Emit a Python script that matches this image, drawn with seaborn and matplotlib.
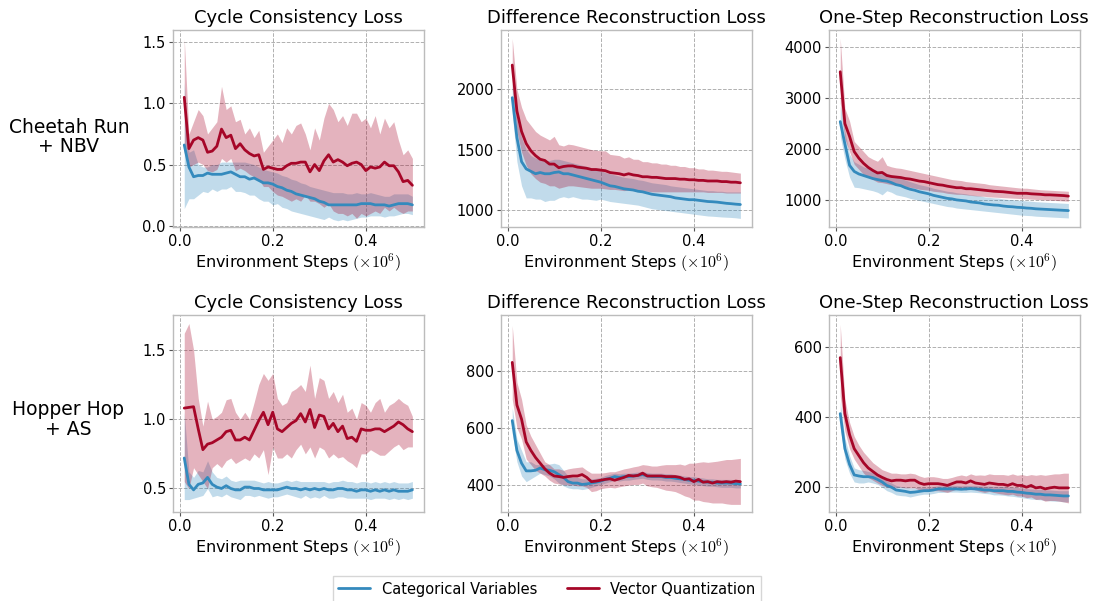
import numpy as np
import pandas as pd
import matplotlib
matplotlib.use("Agg")
import matplotlib.pyplot as plt
import seaborn as sns
from matplotlib.lines import Line2D

# Environment steps (x 10^6), evaluation every 0.01
steps = np.round(np.arange(1, 51) * 0.01, 2)

methods = ["Categorical Variables", "Vector Quantization"]
tasks = ["Cheetah Run\n+ NBV", "Hopper Hop\n+ AS"]
losses = ["Cycle Consistency Loss", "Difference Reconstruction Loss", "One-Step Reconstruction Loss"]

# ---------------- Cheetah Run + NBV ----------------
cr_cyc_cv = [0.66,0.48,0.40,0.41,0.41,0.43,0.42,0.42,0.42,0.43,0.44,0.42,0.40,0.40,0.38,0.39,0.37,0.35,0.35,0.34,
             0.32,0.31,0.29,0.28,0.26,0.25,0.24,0.23,0.22,0.20,0.19,0.17,0.17,0.17,0.17,0.17,0.17,0.17,0.18,0.18,
             0.18,0.17,0.17,0.17,0.16,0.17,0.18,0.18,0.18,0.17]
cr_cyc_cv_hi = [1.17,0.60,0.62,0.50,0.48,0.48,0.50,0.50,0.52,0.52,0.52,0.52,0.52,0.52,0.51,0.50,0.48,0.46,0.45,0.44,
                0.43,0.41,0.40,0.38,0.37,0.35,0.34,0.32,0.31,0.30,0.29,0.28,0.27,0.27,0.27,0.26,0.26,0.27,0.26,0.26,
                0.27,0.26,0.25,0.24,0.24,0.26,0.26,0.26,0.26,0.24]
cr_cyc_cv_lo = [0.14,0.22,0.22,0.25,0.28,0.27,0.30,0.28,0.30,0.30,0.32,0.28,0.28,0.27,0.25,0.25,0.22,0.20,0.20,0.17,
                0.18,0.15,0.14,0.12,0.11,0.10,0.09,0.08,0.07,0.06,0.05,0.07,0.05,0.04,0.05,0.04,0.05,0.06,0.07,0.07,
                0.08,0.08,0.08,0.07,0.08,0.08,0.09,0.10,0.10,0.09]
cr_cyc_vq = [1.05,0.63,0.70,0.72,0.70,0.60,0.61,0.65,0.79,0.72,0.74,0.63,0.67,0.62,0.59,0.57,0.58,0.46,0.48,0.47,
             0.46,0.46,0.49,0.51,0.51,0.52,0.52,0.44,0.50,0.45,0.53,0.58,0.52,0.54,0.52,0.49,0.51,0.52,0.50,0.45,
             0.48,0.47,0.48,0.52,0.49,0.49,0.44,0.36,0.37,0.33]
cr_cyc_vq_hi = [1.53,0.75,0.85,0.95,0.90,0.75,0.80,0.85,1.14,0.95,0.98,0.85,0.87,0.75,0.80,0.72,0.78,0.60,0.65,0.70,
                0.75,0.68,0.80,0.75,0.82,0.84,0.75,0.62,0.80,0.70,0.88,1.00,0.95,0.85,0.90,0.82,0.92,0.92,0.85,0.88,
                0.80,0.90,0.75,0.88,0.80,0.85,0.70,0.58,0.62,0.55]
cr_cyc_vq_lo = [0.60,0.48,0.50,0.52,0.50,0.45,0.44,0.46,0.55,0.52,0.55,0.45,0.47,0.45,0.42,0.40,0.38,0.32,0.32,0.28,
                0.25,0.24,0.22,0.20,0.22,0.20,0.25,0.20,0.20,0.18,0.15,0.18,0.12,0.10,0.10,0.08,0.10,0.06,0.10,0.08,
                0.10,0.12,0.10,0.15,0.12,0.15,0.12,0.10,0.12,0.12]

cr_dif_cv = [1930,1600,1400,1340,1320,1300,1310,1300,1300,1310,1315,1300,1300,1290,1280,1270,1260,1250,1240,1230,
             1215,1200,1195,1185,1175,1170,1165,1155,1150,1140,1130,1125,1120,1115,1110,1100,1095,1090,1085,1085,
             1080,1075,1070,1068,1065,1060,1055,1052,1048,1045]
cr_dif_cv_hi = [2050,1750,1600,1500,1450,1430,1420,1410,1410,1420,1420,1410,1400,1390,1380,1370,1360,1350,1340,1330,
                1310,1300,1290,1280,1270,1265,1260,1250,1245,1235,1225,1220,1215,1210,1200,1195,1190,1185,1180,1175,
                1170,1165,1160,1160,1155,1155,1150,1150,1150,1150]
cr_dif_cv_lo = [1800,1400,1200,1100,1100,1090,1090,1070,1080,1080,1100,1110,1100,1110,1100,1090,1090,1085,1080,1090,
                1080,1070,1065,1060,1055,1050,1045,1040,1030,1020,1010,1005,1000,995,990,985,980,975,970,965,
                960,955,950,948,945,942,940,938,935,930]
cr_dif_vq = [2200,1820,1650,1550,1490,1450,1420,1410,1380,1380,1350,1360,1365,1365,1355,1350,1345,1335,1335,1330,
             1325,1310,1305,1300,1290,1300,1290,1285,1275,1275,1270,1270,1265,1260,1260,1260,1255,1255,1250,1250,
             1245,1245,1240,1240,1240,1235,1235,1230,1230,1225]
cr_dif_vq_hi = [2420,2000,1850,1750,1700,1650,1620,1600,1580,1610,1540,1530,1545,1540,1530,1520,1510,1500,1495,1490,
                1490,1460,1455,1450,1430,1440,1420,1420,1400,1400,1390,1390,1380,1380,1370,1370,1360,1360,1350,1350,
                1340,1340,1330,1330,1325,1320,1320,1315,1310,1305]
cr_dif_vq_lo = [2000,1650,1480,1370,1300,1260,1230,1220,1200,1200,1180,1190,1200,1200,1195,1190,1185,1180,1180,1180,
                1175,1170,1170,1165,1160,1165,1160,1160,1155,1155,1150,1150,1150,1150,1150,1150,1150,1150,1150,1150,
                1150,1150,1145,1145,1145,1145,1140,1140,1140,1140]

cr_one_cv = [2540,2100,1680,1560,1510,1480,1450,1420,1400,1380,1370,1340,1300,1280,1240,1210,1190,1160,1140,1120,
             1090,1070,1050,1030,1020,1000,990,980,960,950,940,920,910,900,895,880,870,865,855,850,
             840,835,825,820,815,810,805,800,795,790]
cr_one_cv_hi = [2850,2350,1900,1750,1700,1650,1620,1580,1560,1540,1520,1480,1450,1420,1390,1360,1330,1300,1280,1260,
                1230,1210,1190,1170,1160,1140,1130,1120,1100,1090,1080,1060,1050,1040,1035,1020,1010,1005,995,990,
                980,975,965,960,955,950,945,940,935,930]
cr_one_cv_lo = [2250,1800,1450,1250,1240,1220,1200,1180,1150,1100,1180,1150,1100,1080,1060,1030,1010,990,970,950,
                930,910,890,870,860,840,830,820,810,800,790,780,770,760,750,740,730,720,710,700,
                695,690,680,675,670,665,660,655,650,645]
cr_one_vq = [3520,2500,2250,1950,1820,1720,1640,1580,1530,1540,1480,1460,1450,1440,1420,1410,1390,1370,1360,1340,
             1320,1300,1290,1270,1255,1240,1240,1220,1220,1210,1200,1190,1180,1170,1165,1160,1150,1140,1130,1130,
             1130,1120,1115,1110,1100,1100,1095,1090,1085,1075]
cr_one_vq_hi = [4180,2800,2550,2150,2050,1950,1850,1800,1760,1850,1680,1650,1630,1620,1600,1580,1560,1540,1520,1500,
                1480,1460,1440,1420,1400,1390,1380,1360,1350,1340,1330,1320,1300,1290,1280,1270,1260,1250,1240,1230,
                1230,1220,1210,1200,1195,1190,1185,1180,1175,1170]
cr_one_vq_lo = [2900,2200,1950,1700,1600,1500,1450,1400,1350,1340,1320,1300,1290,1280,1260,1250,1230,1210,1200,1190,
                1170,1160,1150,1130,1120,1110,1110,1100,1090,1080,1075,1070,1060,1055,1050,1045,1040,1035,1030,1025,
                1020,1015,1010,1005,1000,995,990,985,980,975]

# ---------------- Hopper Hop + AS ----------------
hh_cyc_cv = [0.72,0.53,0.49,0.53,0.54,0.58,0.53,0.51,0.50,0.52,0.50,0.49,0.49,0.51,0.51,0.50,0.50,0.49,0.49,0.49,
             0.49,0.50,0.51,0.50,0.50,0.49,0.50,0.49,0.50,0.49,0.50,0.49,0.49,0.50,0.50,0.49,0.49,0.48,0.49,0.49,
             0.48,0.49,0.48,0.49,0.48,0.49,0.48,0.48,0.48,0.49]
hh_cyc_cv_hi = [1.05,0.62,0.58,0.63,0.62,0.70,0.62,0.58,0.57,0.59,0.56,0.55,0.56,0.56,0.56,0.56,0.55,0.54,0.55,0.54,
                0.54,0.55,0.56,0.55,0.56,0.55,0.55,0.55,0.55,0.55,0.55,0.54,0.55,0.55,0.56,0.55,0.55,0.54,0.55,0.55,
                0.54,0.55,0.54,0.55,0.54,0.55,0.54,0.54,0.54,0.55]
hh_cyc_cv_lo = [0.42,0.42,0.43,0.44,0.45,0.50,0.44,0.45,0.44,0.46,0.44,0.43,0.42,0.45,0.45,0.44,0.45,0.44,0.43,0.44,
                0.44,0.45,0.46,0.45,0.44,0.43,0.45,0.43,0.44,0.43,0.45,0.43,0.43,0.44,0.44,0.43,0.43,0.43,0.43,0.43,
                0.42,0.43,0.43,0.43,0.42,0.43,0.42,0.43,0.42,0.43]
hh_cyc_vq = [1.08,1.085,1.09,0.93,0.78,0.82,0.83,0.85,0.87,0.91,0.92,0.85,0.85,0.87,0.85,0.92,0.99,1.05,0.96,1.05,
             0.93,0.91,0.94,0.97,0.99,1.04,0.98,1.07,0.94,1.03,1.02,0.93,0.97,0.91,0.95,0.86,0.87,0.84,0.93,0.92,
             0.92,0.93,0.93,0.91,0.93,0.95,0.98,0.96,0.93,0.91]
hh_cyc_vq_hi = [1.62,1.69,1.50,1.15,0.95,1.13,1.00,1.02,1.05,1.14,1.15,1.05,1.00,1.05,1.00,1.12,1.25,1.33,1.28,1.33,
                1.15,1.10,1.12,1.20,1.22,1.25,1.20,1.39,1.15,1.30,1.28,1.15,1.20,1.12,1.18,1.05,1.08,1.00,1.12,1.10,
                1.05,1.12,1.15,1.05,1.10,1.12,1.15,1.12,1.10,1.02]
hh_cyc_vq_lo = [0.55,0.50,0.65,0.60,0.55,0.50,0.65,0.68,0.65,0.70,0.72,0.68,0.70,0.72,0.70,0.75,0.72,0.78,0.60,0.80,
                0.72,0.72,0.75,0.72,0.78,0.82,0.75,0.80,0.72,0.80,0.78,0.72,0.75,0.72,0.73,0.70,0.68,0.65,0.75,0.75,
                0.78,0.76,0.74,0.74,0.77,0.80,0.82,0.78,0.80,0.80]

hh_dif_cv = [625,520,475,448,448,450,458,452,450,445,435,425,410,405,405,400,402,405,408,412,
             418,422,428,425,428,428,430,432,435,430,428,428,428,425,425,422,420,418,415,415,
             412,410,408,408,405,405,405,405,403,402]
hh_dif_cv_hi = [670,560,520,480,480,470,470,470,472,475,470,450,430,425,425,420,420,420,422,425,
                432,436,440,438,440,440,442,444,446,442,440,440,440,438,438,435,433,430,428,428,
                425,423,420,420,418,418,418,418,416,415]
hh_dif_cv_lo = [580,480,430,410,420,430,440,435,430,420,405,395,388,385,385,382,385,390,395,400,
                405,410,415,412,415,415,418,420,422,418,416,416,415,412,412,410,407,405,402,400,
                398,396,394,394,392,390,390,390,388,388]
hh_dif_vq = [830,680,630,550,520,495,475,455,440,430,428,425,428,430,430,435,425,410,412,415,
             418,420,415,420,425,432,430,432,440,430,430,430,430,428,428,428,425,418,420,410,
             418,408,410,405,410,408,410,408,412,410]
hh_dif_vq_hi = [960,760,700,610,570,540,510,480,470,455,455,450,455,458,460,462,450,440,440,440,
                442,445,445,450,455,458,462,465,470,468,465,465,468,470,470,470,472,468,475,475,
                478,480,478,480,482,485,488,488,490,492]
hh_dif_vq_lo = [700,600,560,490,470,450,440,430,415,405,402,400,398,398,395,395,390,375,378,385,
                388,390,388,392,395,398,400,400,405,395,392,390,385,380,378,375,368,360,355,345,
                345,340,338,335,335,335,332,330,330,330]

hh_one_cv = [410,310,265,235,232,230,230,228,222,215,205,200,192,190,188,185,186,188,190,190,
             192,195,195,195,195,195,194,195,196,195,194,192,192,190,190,190,188,188,186,185,
             183,182,180,180,178,178,177,176,175,175]
hh_one_cv_hi = [445,340,290,255,250,248,245,242,235,228,218,212,205,202,200,198,198,200,200,200,
                202,204,204,205,205,205,204,205,205,205,204,203,203,202,202,202,200,200,199,198,
                196,195,194,194,192,192,191,190,190,190]
hh_one_cv_lo = [370,280,240,215,212,212,215,212,208,200,190,185,178,176,175,172,175,178,180,180,
                182,185,185,186,186,186,185,185,186,185,184,182,181,178,178,177,175,174,172,170,
                168,166,165,164,162,161,160,160,158,158]
hh_one_vq = [570,410,350,310,290,270,255,245,235,228,222,218,220,220,218,220,220,212,208,210,
             210,210,208,205,210,215,215,212,218,212,210,208,212,210,208,208,205,210,205,205,
             200,205,198,200,195,198,200,198,198,198]
hh_one_vq_hi = [665,450,385,345,320,300,285,270,260,250,245,240,240,238,238,240,238,232,228,230,
                230,228,225,225,228,232,235,232,238,234,235,234,238,236,236,236,234,238,234,236,
                233,236,234,236,234,236,238,238,240,240]
hh_one_vq_lo = [460,360,310,280,260,240,228,220,212,205,200,198,200,200,198,198,198,192,188,190,
                190,190,188,185,190,195,195,192,198,192,188,185,188,185,182,180,178,180,175,175,
                170,172,165,166,160,162,162,160,158,155]

panels = [
    [(cr_cyc_cv, cr_cyc_cv_lo, cr_cyc_cv_hi, cr_cyc_vq, cr_cyc_vq_lo, cr_cyc_vq_hi),
     (cr_dif_cv, cr_dif_cv_lo, cr_dif_cv_hi, cr_dif_vq, cr_dif_vq_lo, cr_dif_vq_hi),
     (cr_one_cv, cr_one_cv_lo, cr_one_cv_hi, cr_one_vq, cr_one_vq_lo, cr_one_vq_hi)],
    [(hh_cyc_cv, hh_cyc_cv_lo, hh_cyc_cv_hi, hh_cyc_vq, hh_cyc_vq_lo, hh_cyc_vq_hi),
     (hh_dif_cv, hh_dif_cv_lo, hh_dif_cv_hi, hh_dif_vq, hh_dif_vq_lo, hh_dif_vq_hi),
     (hh_one_cv, hh_one_cv_lo, hh_one_cv_hi, hh_one_vq, hh_one_vq_lo, hh_one_vq_hi)],
]

ylims = [[(-0.01, 1.60), (860, 2490), (470, 4340)],
         [(0.33, 1.75), (303, 996), (129, 691)]]
yticks = [[[0.0, 0.5, 1.0, 1.5], [1000, 1500, 2000], [1000, 2000, 3000, 4000]],
          [[0.5, 1.0, 1.5], [400, 600, 800], [200, 400, 600]]]

colors = {"Categorical Variables": "#348ABD", "Vector Quantization": "#A60628"}

sns.set_theme(style="whitegrid")
plt.rcParams.update({
    "font.family": ["DejaVu Sans"],
    "mathtext.fontset": "cm",
    "text.color": "black",
    "axes.labelcolor": "black",
    "axes.titlecolor": "black",
    "xtick.color": "black",
    "ytick.color": "black",
    "axes.edgecolor": "#bcbcbc",
    "axes.linewidth": 1.0,
    "grid.color": "#b0b0b0",
    "grid.linestyle": "--",
    "grid.linewidth": 0.7,
    "axes.facecolor": "white",
})

fig, axes = plt.subplots(2, 3, figsize=(10.94, 6.01), dpi=100)
fig.subplots_adjust(left=0.158, right=0.987, top=0.95, bottom=0.148, wspace=0.307, hspace=0.449)

for r in range(2):
    for c in range(3):
        ax = axes[r][c]
        cv, cv_lo, cv_hi, vq, vq_lo, vq_hi = panels[r][c]
        df = pd.DataFrame({
            "step": np.concatenate([steps, steps]),
            "loss": np.concatenate([cv, vq]),
            "method": [methods[0]] * len(steps) + [methods[1]] * len(steps),
        })
        ax.fill_between(steps, cv_lo, cv_hi, color=colors[methods[0]], alpha=0.3, linewidth=0)
        ax.fill_between(steps, vq_lo, vq_hi, color=colors[methods[1]], alpha=0.3, linewidth=0)
        sns.lineplot(data=df, x="step", y="loss", hue="method", palette=colors,
                     hue_order=methods, linewidth=2.0, ax=ax, legend=False, errorbar=None)
        ax.set_title(losses[c], fontsize=13, pad=5)
        ax.set_xlabel(r"Environment Steps $(\times 10^6)$", fontsize=11.5, labelpad=2)
        ax.set_ylabel("")
        ax.set_xlim(-0.0145, 0.5245)
        ax.set_xticks([0.0, 0.2, 0.4])
        ax.set_ylim(*ylims[r][c])
        ax.set_yticks(yticks[r][c])
        ax.tick_params(labelsize=10.5, pad=2, length=3, width=0.8, color="#555555",
                       bottom=True, left=True, direction="out")
        for s in ax.spines.values():
            s.set_visible(True)
            s.set_color("#bcbcbc")

fig.text(0.063, 0.772, tasks[0], fontsize=13.5, ha="center", va="center", linespacing=1.05)
fig.text(0.062, 0.302, tasks[1], fontsize=13.5, ha="center", va="center", linespacing=1.05)

handles = [Line2D([], [], color=colors[m], lw=2.0) for m in methods]
fig.legend(handles, methods, loc="upper center", ncol=2, bbox_to_anchor=(0.5, 0.042),
           fontsize=10.5, frameon=True, edgecolor="#cccccc", fancybox=False, columnspacing=2.0,
           handlelength=2.2, borderaxespad=0)

fig.savefig("out.png", dpi=100)
